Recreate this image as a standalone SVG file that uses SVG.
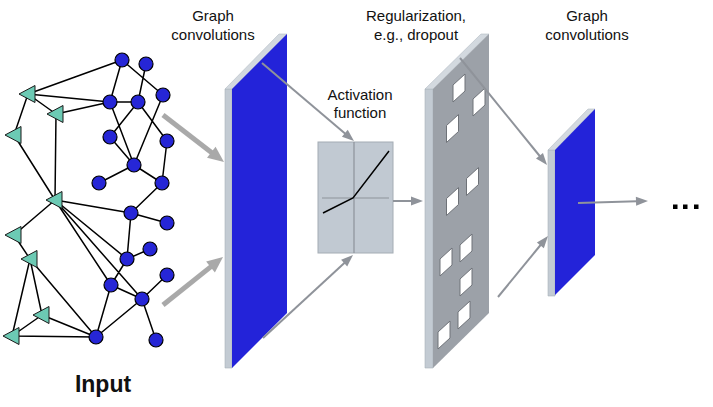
<svg xmlns="http://www.w3.org/2000/svg" width="713" height="407" viewBox="0 0 713 407">
<defs>
<style>
.lbl{font-family:"Liberation Sans",Arial,sans-serif;font-size:15px;fill:#111;text-anchor:middle}
.edge{stroke:#000;stroke-width:1.5;fill:none}
.node{fill:#2626d6;stroke:#000;stroke-width:1.2}
.tri{fill:#6ccab4;stroke:#1a1a1a;stroke-width:1}
.strip{fill:#c3cbd3;stroke:#aab2ba;stroke-width:0.6}
.cap{fill:#d3d9df;stroke:#b4bcc4;stroke-width:0.6}
.blue{fill:#2323d9}
.gface{fill:#9ca1a8}
.hole{fill:#fff;stroke:#6e7278;stroke-width:1}
.thin{stroke:#8f939a;stroke-width:2;fill:none}
.thick{stroke:#a9a9a9;stroke-width:5;fill:none}
</style>
<marker id="ah" markerUnits="userSpaceOnUse" markerWidth="20" markerHeight="20" refX="1" refY="0" orient="auto" viewBox="0 -10 20 20" overflow="visible">
<path d="M0,-4.5 L12,0 L0,4.5 z" fill="#8f939a"/>
</marker>
<marker id="ahT" markerUnits="userSpaceOnUse" markerWidth="24" markerHeight="24" refX="1" refY="0" orient="auto" viewBox="0 -12 24 24" overflow="visible">
<path d="M0,-7 L16,0 L0,7 z" fill="#a9a9a9"/>
</marker>
<polygon id="tr" points="-9,0 7,-8.5 7,8.5"/>
<polygon id="hl" points="-6,-3 6,-14 6,3 -6,14"/>
</defs>
<rect width="713" height="407" fill="#fff"/>

<g id="labels">
<text class="lbl" x="213" y="21">Graph</text>
<text class="lbl" x="213" y="40">convolutions</text>
<text class="lbl" x="416" y="21">Regularization,</text>
<text class="lbl" x="416" y="40">e.g., dropout</text>
<text class="lbl" x="587" y="21">Graph</text>
<text class="lbl" x="587" y="40">convolutions</text>
<text class="lbl" x="360" y="100">Activation</text>
<text class="lbl" x="360" y="118">function</text>
<text x="103" y="392" font-family="'Liberation Sans',Arial,sans-serif" font-size="23" font-weight="bold" fill="#111" text-anchor="middle">Input</text>
</g>

<g id="input-graph">
<g id="graph-edges">
<path class="edge" d="M122,60 L28,94 M122,60 L110,102 M122,60 L163,95 M146,64 L138,102 M28,94 L110,102 M56,114 L110,102 M28,94 L56,114 M28,94 L14,135 M14,135 L55,200 M56,114 L55,200 M110,102 L138,102 M110,102 L134,165 M138,102 L110,137 M138,102 L167,141 M163,95 L134,165 M110,137 L134,165 M167,141 L162,183 M134,165 L99,183 M134,165 L162,183 M162,183 L131,213 M55,200 L131,213 M131,213 L167,223 M131,213 L127,259 M127,259 L150,249 M127,259 L111,285 M55,200 L127,259 M55,200 L111,285 M55,200 L142,299 M14,235 L55,200 M14,235 L30,259 M30,259 L96,337 M30,259 L42,315 M30,259 L12,336 M42,315 L12,336 M42,315 L96,337 M12,336 L96,337 M96,337 L111,285 M96,337 L142,299 M111,285 L142,299 M142,299 L167,275 M142,299 L156,340"/>
</g>
<g id="graph-nodes">
<circle class="node" cx="122" cy="60" r="7"/>
<circle class="node" cx="146" cy="64" r="7"/>
<circle class="node" cx="163" cy="95" r="7"/>
<circle class="node" cx="110" cy="102" r="7"/>
<circle class="node" cx="138" cy="102" r="7"/>
<circle class="node" cx="110" cy="137" r="7"/>
<circle class="node" cx="167" cy="141" r="7"/>
<circle class="node" cx="134" cy="165" r="7"/>
<circle class="node" cx="99" cy="183" r="7"/>
<circle class="node" cx="162" cy="183" r="7"/>
<circle class="node" cx="131" cy="213" r="7"/>
<circle class="node" cx="167" cy="223" r="7"/>
<circle class="node" cx="150" cy="249" r="7"/>
<circle class="node" cx="127" cy="259" r="7"/>
<circle class="node" cx="167" cy="275" r="7"/>
<circle class="node" cx="111" cy="285" r="7"/>
<circle class="node" cx="142" cy="299" r="7"/>
<circle class="node" cx="96" cy="337" r="7"/>
<circle class="node" cx="156" cy="340" r="7"/>
<use href="#tr" class="tri" x="28" y="94"/>
<use href="#tr" class="tri" x="56" y="114"/>
<use href="#tr" class="tri" x="14" y="135"/>
<use href="#tr" class="tri" x="55" y="200"/>
<use href="#tr" class="tri" x="14" y="235"/>
<use href="#tr" class="tri" x="30" y="259"/>
<use href="#tr" class="tri" x="42" y="315"/>
<use href="#tr" class="tri" x="12" y="336"/>
</g>
</g>

<g id="layer-conv1">
<polygon class="strip" points="225,89 232,89 232,368 225,368"/>
<polygon class="cap" points="225,89 279,34 287,34 232,89"/>
<polygon class="blue" points="232,89 287,34 287,313 232,368"/>
</g>

<g id="activation">
<rect x="318" y="142" width="75" height="111" fill="#c1c9d2" stroke="#a4acb4" stroke-width="1"/>
<line x1="354" y1="142" x2="354" y2="253" stroke="#8d939a" stroke-width="1.2"/>
<line x1="322" y1="198" x2="389" y2="198" stroke="#8d939a" stroke-width="1.2"/>
<polyline points="323,213 353,198 389,151" fill="none" stroke="#000" stroke-width="1.5"/>
</g>

<g id="layer-dropout">
<polygon class="strip" points="425,89 433,89 433,368 425,368"/>
<polygon class="cap" points="425,89 481,34 489,34 433,89"/>
<polygon class="gface" points="433,89 489,34 489,313 433,368"/>
<use href="#hl" class="hole" x="459" y="88"/>
<use href="#hl" class="hole" x="479" y="102"/>
<use href="#hl" class="hole" x="452.5" y="128.5"/>
<use href="#hl" class="hole" x="472.5" y="181.5"/>
<use href="#hl" class="hole" x="452.5" y="201.5"/>
<use href="#hl" class="hole" x="446" y="262"/>
<use href="#hl" class="hole" x="466" y="248"/>
<use href="#hl" class="hole" x="466" y="282"/>
<use href="#hl" class="hole" x="464" y="315"/>
<use href="#hl" class="hole" x="444" y="335"/>
</g>

<g id="layer-conv2">
<polygon class="strip" points="548,150 555,150 555,296 548,296"/>
<polygon class="cap" points="548,150 588,109 595,109 555,150"/>
<polygon class="blue" points="555,150 595,109 595,255 555,295"/>
</g>

<g id="connectors">
<line class="thick" x1="163" y1="115" x2="212.1" y2="152.9" marker-end="url(#ahT)"/>
<line class="thick" x1="163" y1="305" x2="211.3" y2="266.4" marker-end="url(#ahT)"/>
<line class="thin" x1="262" y1="63" x2="345.6" y2="133.9" marker-end="url(#ah)"/>
<line class="thin" x1="263" y1="338" x2="344.9" y2="262.5" marker-end="url(#ah)"/>
<line class="thin" x1="393" y1="201" x2="412" y2="201" marker-end="url(#ah)"/>
<line class="thin" x1="460" y1="58" x2="540.1" y2="156.5" marker-end="url(#ah)"/>
<line class="thin" x1="498" y1="297" x2="541" y2="244.5" marker-end="url(#ah)"/>
<line class="thin" x1="578" y1="203" x2="637" y2="201.3" marker-end="url(#ah)"/>
</g>

<g id="ellipsis" fill="#000">
<rect x="673" y="204.5" width="4.5" height="4.5"/>
<rect x="683" y="204.5" width="4.5" height="4.5"/>
<rect x="694" y="204.5" width="4.5" height="4.5"/>
</g>
</svg>
